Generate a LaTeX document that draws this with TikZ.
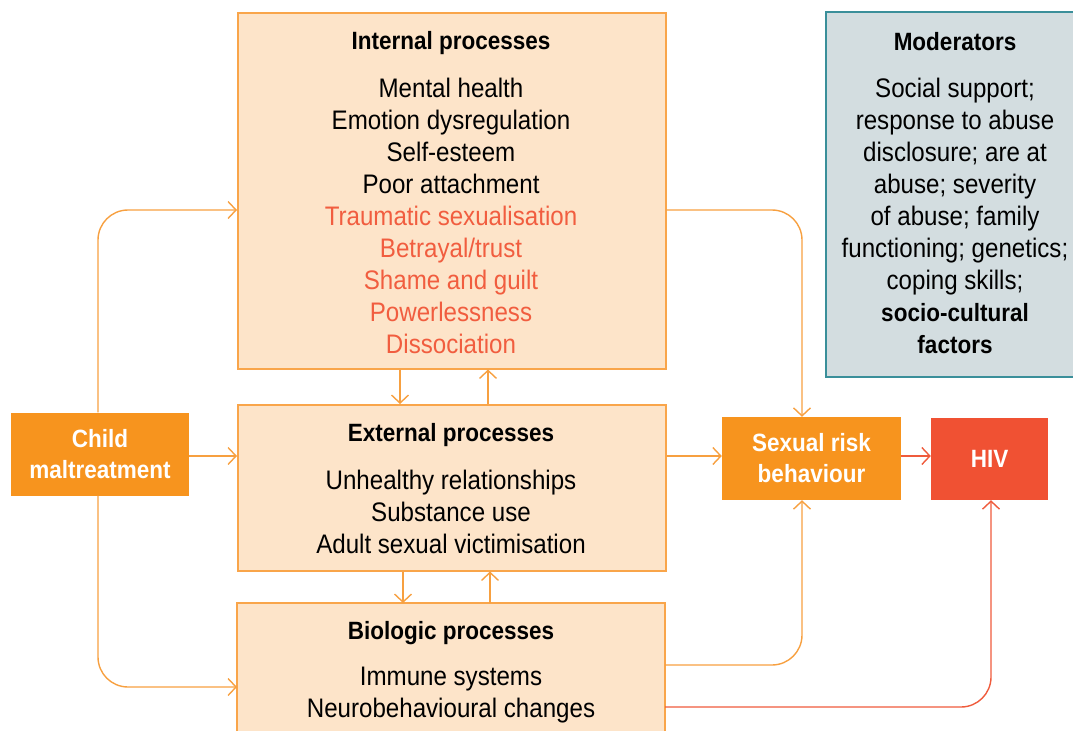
\documentclass[tikz,border=0pt]{standalone}
\usepackage{fontspec}
\setmainfont[FakeStretch=0.9]{Liberation Sans}
\usetikzlibrary{arrows.meta}
\definecolor{orangeF}{HTML}{F7941E}
\definecolor{peach}{HTML}{FDE4C9}
\definecolor{peachB}{HTML}{F9A54A}
\definecolor{lineO}{HTML}{F7A040}
\definecolor{redF}{HTML}{F05133}
\definecolor{redL}{HTML}{EF5B3C}
\definecolor{redT}{HTML}{F15D3F}
\definecolor{modF}{HTML}{D3DDE0}
\definecolor{modB}{HTML}{3A8F9A}
\tikzset{
  proc/.style={fill=peach, draw=peachB, line width=1.5pt, anchor=north west, inner sep=0pt},
  solid box/.style={fill=orangeF, text=white, font=\fontsize{25}{31}\selectfont\bfseries, align=center, inner sep=0pt},
  conn/.style={draw=lineO, line width=1.4pt, -{Straight Barb[length=8pt,width=17pt,line width=1.4pt]}},
  rconn/.style={draw=redL, line width=1.4pt, -{Straight Barb[length=8pt,width=17pt,line width=1.4pt]}},
  txt/.style={font=\fontsize{26.8}{32}\selectfont, align=center},
  head/.style={font=\fontsize{25}{32}\selectfont\bfseries},
  bt/.style={font=\fontsize{25}{32}\selectfont\bfseries},
}
\begin{document}
\begin{tikzpicture}[x=1pt,y=-1pt]
\useasboundingbox (0,0) rectangle (1073,731);
% process boxes
\node[proc, minimum width=428pt, minimum height=356pt] (int) at (237,12) {};
\node[proc, minimum width=428pt, minimum height=166pt] (ext) at (237,404) {};
\fill[peach] (237,603) rectangle (665,731);
\draw[peachB, line width=1.5pt] (237,731) -- (237,603) -- (665,603) -- (665,731);
\coordinate (bio) at (451,667);
\coordinate (bioE) at (665,667);
% moderators
\fill[modF] (826,12) rectangle (1073,377);
\draw[modB, line width=1.5pt] (1074,12) -- (826,12) -- (826,377) -- (1074,377);
\node[head] (modh) at (955,42) {Moderators};
\node[txt] (modt) at (955,216) {Social support;\\response to abuse\\disclosure; are at\\abuse; severity\\of abuse; family\\functioning; genetics;\\coping skills;\\{\fontsize{25}{32}\selectfont\bfseries socio-cultural}\\{\fontsize{25}{32}\selectfont\bfseries factors}};
% internal text
\node[head] (inth) at (451,43) {Internal processes};
\node[txt] (intt) at (451,216) {Mental health\\Emotion dysregulation\\Self-esteem\\Poor attachment\\\textcolor{redT}{Traumatic sexualisation}\\\textcolor{redT}{Betrayal/trust}\\\textcolor{redT}{Shame and guilt}\\\textcolor{redT}{Powerlessness}\\\textcolor{redT}{Dissociation}};
% external text
\node[head] (exth) at (451,435) {External processes};
\node[txt] (extt) at (451,512) {Unhealthy relationships\\Substance use\\Adult sexual victimisation};
% biologic text
\node[head] (bioh) at (451,633) {Biologic processes};
\node[txt] (biot) at (451,695) {Immune systems\\Neurobehavioural changes};
% solid boxes
\node[solid box, minimum width=178pt, minimum height=83pt] (c) at (100,454) {Child\\maltreatment};
\node[solid box, minimum width=179pt, minimum height=83pt] (srb) at (811.5,458.5) {Sexual risk\\behaviour};
\node[solid box, fill=redF, minimum width=117pt, minimum height=82pt] (hiv) at (989.5,459) {HIV};
% connectors
\draw[conn, rounded corners=30pt] (c.north -| 98,0) |- (int.west |- 0,210);
\draw[conn, rounded corners=30pt] (c.south -| 98,0) |- (ext.west |- 0,687);
\draw[conn] (c.east |- 0,456) -- (ext.west |- 0,456);
\draw[conn, rounded corners=30pt] (int.east |- 0,210) -| (srb.north -| 802,0);
\draw[conn] (ext.east |- 0,456) -- (srb.west |- 0,456);
\draw[conn, rounded corners=30pt] (bioE |- 0,665) -| (srb.south -| 802,0);
\draw[rconn] (srb.east |- 0,456) -- (hiv.west |- 0,456);
\draw[rconn, rounded corners=30pt] (bioE |- 0,707) -| (hiv.south -| 991,0);
\draw[conn] (int.south -| 400,0) -- (ext.north -| 400,0);
\draw[conn] (ext.north -| 488,0) -- (int.south -| 488,0);
\draw[conn] (ext.south -| 403,0) -- (403,603);
\draw[conn] (490,603) -- (ext.south -| 490,0);
\end{tikzpicture}
\end{document}
